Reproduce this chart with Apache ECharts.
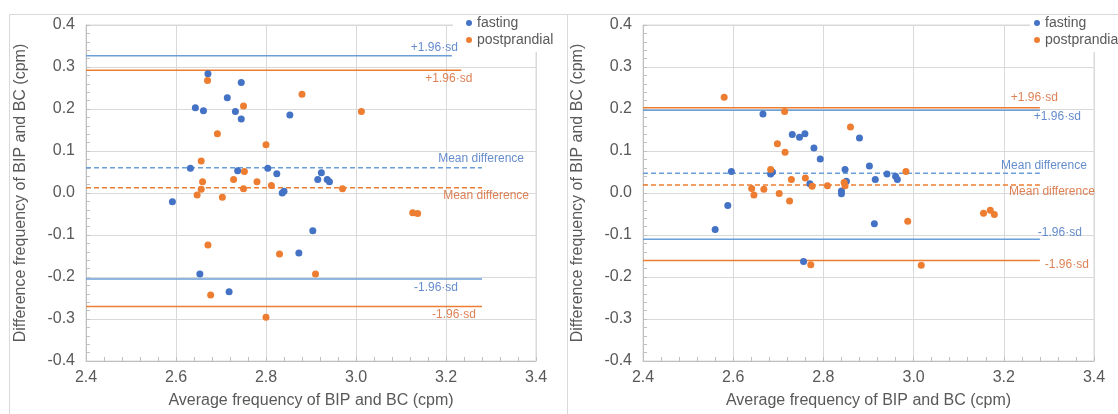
<!DOCTYPE html>
<html>
<head>
<meta charset="utf-8">
<script src="https://cdn.jsdelivr.net/npm/echarts@6/dist/echarts.min.js"></script>
<style>
  html, body { margin: 0; padding: 0; background: #fff; }
  #chart { width: 1118px; height: 414px; }
</style>
</head>
<body>
<div id="chart"></div>
<script>
// left panel points [average, difference]
const leftFasting = [
  [2.671, 0.284], [2.745, 0.263], [2.714, 0.227], [2.643, 0.203], [2.661, 0.196],
  [2.732, 0.194], [2.745, 0.176], [2.853, 0.186], [2.632, 0.059], [2.737, 0.053],
  [2.804, 0.059], [2.824, 0.046], [2.915, 0.032], [2.923, 0.048], [2.936, 0.032],
  [2.941, 0.027], [2.836, 0.000], [2.840, 0.004], [2.592, -0.021], [2.904, -0.090],
  [2.873, -0.143], [2.653, -0.193], [2.718, -0.235]
];
const leftPost = [
  [2.670, 0.268], [2.880, 0.235], [2.750, 0.207], [2.692, 0.141], [2.800, 0.115],
  [2.656, 0.076], [2.752, 0.051], [2.728, 0.032], [2.659, 0.027], [2.780, 0.027],
  [2.812, 0.018], [2.656, 0.009], [2.750, 0.010], [2.647, -0.005], [2.703, -0.010],
  [3.012, 0.194], [2.970, 0.010], [3.126, -0.047], [3.137, -0.049], [2.671, -0.124],
  [2.830, -0.145], [2.910, -0.193], [2.677, -0.243], [2.800, -0.296]
];
// right panel points
const rightFasting = [
  [2.666, 0.188], [2.731, 0.139], [2.747, 0.133], [2.759, 0.141], [2.880, 0.131],
  [2.779, 0.107], [2.793, 0.081], [2.596, 0.051], [2.683, 0.045], [2.687, 0.050],
  [2.848, 0.056], [2.902, 0.064], [2.915, 0.032], [2.851, 0.028], [2.770, 0.022],
  [2.840, 0.005], [2.840, -0.002], [2.588, -0.030], [2.560, -0.087], [2.913, -0.073],
  [2.756, -0.163], [2.941, 0.045], [2.960, 0.040], [2.964, 0.032]
];
const rightPost = [
  [2.580, 0.228], [2.714, 0.194], [2.860, 0.157], [2.698, 0.117], [2.715, 0.097],
  [2.683, 0.056], [2.729, 0.032], [2.760, 0.036], [2.775, 0.016], [2.809, 0.017],
  [2.846, 0.025], [2.848, 0.017], [2.641, 0.011], [2.668, 0.009], [2.646, -0.005],
  [2.702, -0.001], [2.725, -0.019], [2.772, -0.171], [2.983, 0.051], [2.987, -0.067],
  [3.017, -0.172], [3.155, -0.048], [3.170, -0.041], [3.179, -0.051]
];

// +1.96sd, mean difference, -1.96sd
const statNames = ['+1.96·sd', 'Mean difference', '-1.96·sd'];
const leftFastingStats = [0.327, 0.060, -0.205];
const leftPostStats = [0.292, 0.0125, -0.270];
const rightFastingStats = [0.197, 0.047, -0.110];
const rightPostStats = [0.203, 0.019, -0.161];
const lineStart = 2.4;
const leftFastingEnds = [3.213, 3.28, 3.28];
const leftPostEnds = [3.234, 3.28, 3.28];
const rightFastingEnds = [3.28, 3.28, 3.28];
const rightPostEnds = [3.28, 3.28, 3.28];

const xTicks = ['2.4', '2.6', '2.8', '3.0', '3.2', '3.4'];
const yTicks = ['-0.4', '-0.3', '-0.2', '-0.1', '0.0', '0.1', '0.2', '0.3', '0.4'];

const BLUE = '#4472C4', ORANGE = '#ED7D31';
const BLUE_LINE = '#6A9FD8', BLUE_TEXT = '#3F6FBF', ORANGE_TEXT = '#D4622A';
const FONT = 'Liberation Sans, Arial, sans-serif';

// label offsets (px) of each stat text, relative to its line end
const labelOffsets = {
  leftFasting: [[6, -8], [42, -9], [-24, 9]],
  leftPost: [[11, 8], [47, 8], [-6, 8]],
  rightFasting: [[41, 6], [47, -8], [42, -7]],
  rightPost: [[18, -10], [55, 7], [49, 4]]
};

function statSeries(idx, stats, ends, lineColor, textColor, offsets) {
  let out = [];
  stats.forEach(function (v, i) {
    out.push({
      type: 'line', xAxisIndex: idx, yAxisIndex: idx, silent: true,
      symbol: 'none', animation: false,
      lineStyle: { color: lineColor, width: 1.5, type: i === 1 ? [5, 3] : 'solid' },
      data: [[lineStart, v], [ends[i], v]],
      z: 1
    });
  });
  out.push({
    type: 'scatter', xAxisIndex: idx, yAxisIndex: idx, silent: true,
    symbolSize: 1, itemStyle: { color: 'transparent' }, animation: false,
    data: stats.map(function (v, i) {
      return {
        value: [ends[i], v],
        label: {
          show: true, formatter: statNames[i], position: 'inside',
          align: 'right', verticalAlign: 'middle', offset: offsets[i],
          color: textColor, fontSize: 12, fontFamily: FONT
        }
      };
    }),
    z: 20
  });
  return out;
}

function xAxisOf(idx) {
  return {
    type: 'value', gridIndex: idx, min: 2.4, max: 3.4, interval: 0.2,
    name: 'Average frequency of BIP and BC (cpm)', nameLocation: 'middle', nameGap: 32,
    nameTextStyle: { color: '#595959', fontSize: 16, fontFamily: FONT },
    axisLine: { show: true, onZero: false, lineStyle: { color: '#BFBFBF' } },
    axisTick: { show: true, inside: true, length: 4, lineStyle: { color: '#BFBFBF' } },
    minorTick: { show: true, splitNumber: 5, length: 4, lineStyle: { color: '#BFBFBF' } },
    axisLabel: {
      color: '#595959', fontSize: 16, fontFamily: FONT, margin: 9,
      formatter: function (v) { return xTicks[Math.round((v - 2.4) / 0.2)]; }
    },
    splitLine: { show: true, lineStyle: { color: '#D9D9D9' } }
  };
}

function yAxisOf(idx) {
  return {
    type: 'value', gridIndex: idx, min: -0.4, max: 0.4, interval: 0.1,
    name: 'Difference frequency of BIP and BC (cpm)', nameLocation: 'middle', nameGap: 57,
    nameTextStyle: { color: '#595959', fontSize: 16, fontFamily: FONT },
    axisLine: { show: true, onZero: false, lineStyle: { color: '#BFBFBF' } },
    axisTick: { show: true, inside: true, length: 4, lineStyle: { color: '#BFBFBF' } },
    minorTick: { show: true, splitNumber: 5, length: 4, lineStyle: { color: '#BFBFBF' } },
    axisLabel: {
      color: '#595959', fontSize: 16, fontFamily: FONT, margin: 11,
      formatter: function (v) { return yTicks[Math.round((v + 0.4) / 0.1)]; }
    },
    splitLine: { show: true, lineStyle: { color: '#D9D9D9' } }
  };
}

function legendOf(left, pad) {
  return {
    orient: 'vertical', left: left, top: 11, data: ['fasting', 'postprandial'],
    icon: 'circle', itemWidth: 6, itemHeight: 6, itemGap: 3,
    backgroundColor: '#fff', padding: pad,
    textStyle: { color: '#595959', fontSize: 14, fontFamily: FONT }, z: 5
  };
}

let chart = echarts.init(document.getElementById('chart'));
let series = [
  { name: 'fasting', type: 'scatter', xAxisIndex: 0, yAxisIndex: 0, symbolSize: 7, itemStyle: { color: BLUE, opacity: 1 }, data: leftFasting, z: 4 },
  { name: 'postprandial', type: 'scatter', xAxisIndex: 0, yAxisIndex: 0, symbolSize: 7, itemStyle: { color: ORANGE, opacity: 1 }, data: leftPost, z: 4 },
  { name: 'fasting', type: 'scatter', xAxisIndex: 1, yAxisIndex: 1, symbolSize: 7, itemStyle: { color: BLUE, opacity: 1 }, data: rightFasting, z: 4 },
  { name: 'postprandial', type: 'scatter', xAxisIndex: 1, yAxisIndex: 1, symbolSize: 7, itemStyle: { color: ORANGE, opacity: 1 }, data: rightPost, z: 4 }
];
series = series
  .concat(statSeries(0, leftFastingStats, leftFastingEnds, BLUE_LINE, BLUE_TEXT, labelOffsets.leftFasting))
  .concat(statSeries(0, leftPostStats, leftPostEnds, ORANGE, ORANGE_TEXT, labelOffsets.leftPost))
  .concat(statSeries(1, rightFastingStats, rightFastingEnds, BLUE_LINE, BLUE_TEXT, labelOffsets.rightFasting))
  .concat(statSeries(1, rightPostStats, rightPostEnds, ORANGE, ORANGE_TEXT, labelOffsets.rightPost));

let option = {
  animation: false,
  textStyle: { fontFamily: FONT },
  grid: [
    { left: 86, top: 25, width: 450, height: 337, show: true, borderColor: '#D9D9D9', borderWidth: 1 },
    { left: 643, top: 25, width: 451, height: 337, show: true, borderColor: '#D9D9D9', borderWidth: 1 }
  ],
  xAxis: [xAxisOf(0), xAxisOf(1)],
  yAxis: [yAxisOf(0), yAxisOf(1)],
  legend: [legendOf(453, [5, 8, 5, 13]), legendOf(1030, [5, 8, 5, 4])],
  graphic: [
    { type: 'rect', left: 7, top: 12, shape: { width: 558, height: 420 }, style: { fill: 'none', stroke: '#D9D9D9', lineWidth: 1 }, z: 100 },
    { type: 'rect', left: 565, top: 12, shape: { width: 560, height: 420 }, style: { fill: 'none', stroke: '#D9D9D9', lineWidth: 1 }, z: 100 }
  ],
  series: series
};
chart.setOption(option);
</script>
</body>
</html>
